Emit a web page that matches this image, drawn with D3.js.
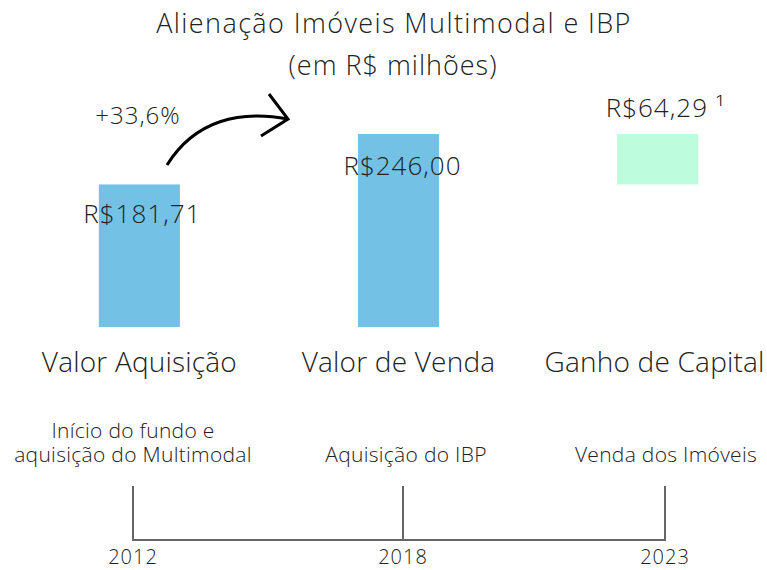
<!DOCTYPE html>
<html>
<head>
<meta charset="utf-8">
<script src="https://cdn.jsdelivr.net/npm/d3@7"></script>
<style>
  body { margin: 0; background: #fff; }
  svg text { font-family: "Open Sans", Lato, sans-serif; font-weight: 300; fill: #222; }
</style>
</head>
<body>
<div id="chart"></div>
<script>
// chart data
var categories = ["Valor Aquisição", "Valor de Venda", "Ganho de Capital"];
var barStart = [0, 0, 181.71];
var barEnd = [181.71, 246.00, 246.00];
var valueLabels = ["R$181,71", "R$246,00", "R$64,29 ¹"];
var barColors = ["#73c2e6", "#73c2e6", "#bdfcdc"];
var growthLabel = "+33,6%";
var years = ["2012", "2018", "2023"];
var events = [["Início do fundo e", "aquisição do Multimodal"], ["Aquisição do IBP"], ["Venda dos Imóveis"]];

var width = 767, height = 570;
var svg = d3.select("#chart").append("svg")
  .attr("width", width)
  .attr("height", height);

var x = d3.scaleBand().domain(categories).range([47, 750]).paddingInner(0.687).paddingOuter(0.2);
var y = d3.scaleLinear().domain([0, 246]).range([327, 134]);

// title
svg.append("text").attr("x", 394).attr("y", 33).attr("text-anchor", "middle")
  .style("font-size", "27px").style("letter-spacing", "1.4px")
  .text("Alienação Imóveis Multimodal e IBP");
svg.append("text").attr("x", 393).attr("y", 75).attr("text-anchor", "middle")
  .style("font-size", "27px").style("letter-spacing", "1px")
  .text("(em R$ milhões)");

// bars
svg.selectAll(".bar").data(categories).enter().append("rect")
  .attr("class", "bar")
  .attr("x", function (d) { return x(d); })
  .attr("y", function (d, i) { return y(barEnd[i]); })
  .attr("width", x.bandwidth())
  .attr("height", function (d, i) { return y(barStart[i]) - y(barEnd[i]); })
  .style("fill", function (d, i) { return barColors[i]; });

// value labels
var labelPos = [
  { dx: 3, y: function (i) { return y(barEnd[i]) + 39; } },
  { dx: 4, y: function (i) { return y(barEnd[i]) + 41; } },
  { dx: 8, y: function (i) { return y(barEnd[i]) - 17; } }
];
svg.selectAll(".val").data(valueLabels).enter().append("text")
  .attr("class", "val")
  .attr("x", function (d, i) { return x(categories[i]) + x.bandwidth() / 2 + labelPos[i].dx; })
  .attr("y", function (d, i) { return labelPos[i].y(i); })
  .attr("text-anchor", "middle")
  .style("font-size", "26px")
  .style("letter-spacing", "1px")
  .text(function (d) { return d; });

// category labels
var catShift = [0, 0, -3];
svg.selectAll(".cat").data(categories).enter().append("text")
  .attr("class", "cat")
  .attr("x", function (d, i) { return x(d) + x.bandwidth() / 2 + catShift[i]; })
  .attr("y", 372)
  .attr("text-anchor", "middle")
  .style("font-size", "28px")
  .style("letter-spacing", "0.2px")
  .text(function (d) { return d; });

// growth arrow
svg.append("text").attr("x", 138).attr("y", 124).attr("text-anchor", "middle")
  .style("font-size", "24px").style("letter-spacing", "1px").text(growthLabel);
svg.append("path")
  .attr("d", "M167,165 C195,120 240,110 288,119")
  .style("fill", "none").style("stroke", "#000").style("stroke-width", 3);
svg.append("path")
  .attr("d", "M269,94 L288,119 L261,136")
  .style("fill", "none").style("stroke", "#000").style("stroke-width", 3);

// timeline
var txPos = { "2012": 133, "2018": 403, "2023": 665 };
svg.append("line").attr("x1", txPos["2012"]).attr("x2", txPos["2023"])
  .attr("y1", 540).attr("y2", 540)
  .style("stroke", "#666").style("stroke-width", 2);
svg.selectAll(".tick").data(years).enter().append("line")
  .attr("x1", function (d) { return txPos[d]; })
  .attr("x2", function (d) { return txPos[d]; })
  .attr("y1", 486).attr("y2", 541)
  .style("stroke", "#666").style("stroke-width", 2);
svg.selectAll(".year").data(years).enter().append("text")
  .attr("x", function (d) { return txPos[d]; })
  .attr("y", 564)
  .attr("text-anchor", "middle")
  .style("font-size", "20px")
  .style("letter-spacing", "1px")
  .text(function (d) { return d; });

var eventX = [133, 406, 666];
events.forEach(function (lines, i) {
  var t = svg.append("text").attr("text-anchor", "middle").style("font-size", "21px")
    .style("letter-spacing", "0.3px");
  lines.forEach(function (line, j) {
    t.append("tspan").attr("x", eventX[i])
      .attr("y", 462 - (lines.length - 1 - j) * 24)
      .text(line);
  });
});
</script>
</body>
</html>
